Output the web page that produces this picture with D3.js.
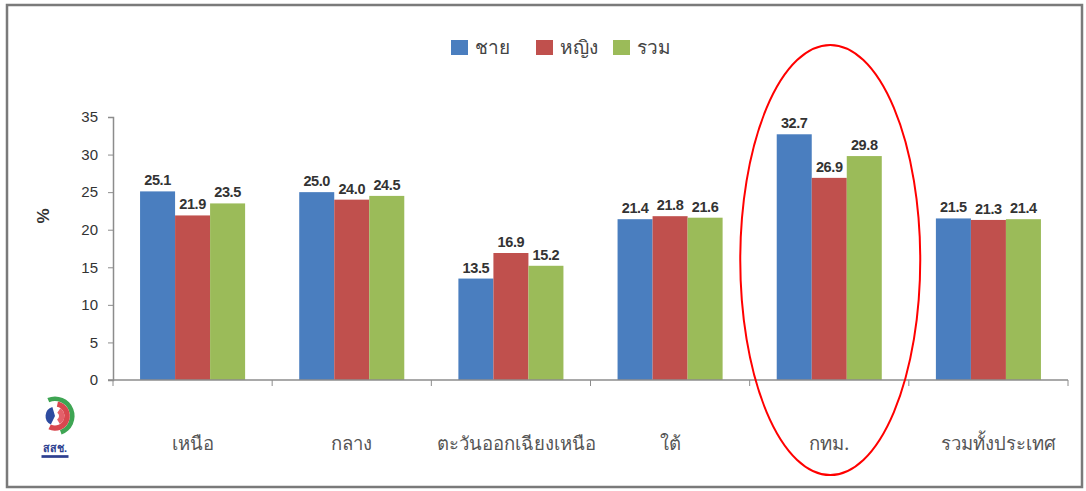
<!DOCTYPE html>
<html>
<head>
<meta charset="utf-8">
<script src="https://cdn.jsdelivr.net/npm/d3@7/dist/d3.min.js"></script>
<style>
  html, body { margin: 0; padding: 0; background: #fff; }
  svg { display: block; }
</style>
</head>
<body>
<svg id="chart" width="1086" height="491"></svg>
<script>
// Regions (x-axis categories)
const regions = ["เหนือ", "กลาง", "ตะวันออกเฉียงเหนือ", "ใต้", "กทม.", "รวมทั้งประเทศ"];
// Series names and colours
const seriesNames = ["ชาย", "หญิง", "รวม"];
const seriesColors = ["#4a7ebf", "#c0504d", "#9bbb59"];
// Percentages per region, one array per series
const male   = [25.1, 25.0, 13.5, 21.4, 32.7, 21.5];
const female = [21.9, 24.0, 16.9, 21.8, 26.9, 21.3];
const total  = [23.5, 24.5, 15.2, 21.6, 29.8, 21.4];
const yTicks = [0, 5, 10, 15, 20, 25, 30, 35];
const highlighted = "กทม.";

const seriesValues = [male, female, total];
const rows = regions.map((r, i) => ({
  region: r,
  values: seriesNames.map((s, k) => ({ key: s, k, value: seriesValues[k][i] }))
}));

const svg = d3.select("#chart");
const plot = { left: 113, right: 1068, top: 117, bottom: 380 };

// Outer frame
svg.append("rect")
  .attr("x", 7).attr("y", 5).attr("width", 1075).attr("height", 482)
  .attr("fill", "#fff").attr("stroke", "#7a7a7a").attr("stroke-width", 2.5);

const x = d3.scaleBand().domain(regions).range([plot.left, plot.right]).paddingInner(0).paddingOuter(0);
const groupWidth = x.bandwidth() * 0.66;
const xs = d3.scaleBand().domain(seriesNames)
  .range([(x.bandwidth() - groupWidth) / 2, (x.bandwidth() + groupWidth) / 2]).padding(0);
const y = d3.scaleLinear().domain([0, 35]).range([plot.bottom, plot.top]);

// Bars
const groups = svg.append("g").selectAll("g").data(rows).join("g")
  .attr("transform", d => `translate(${x(d.region)},0)`);
groups.selectAll("rect").data(d => d.values).join("rect")
  .attr("x", d => xs(d.key))
  .attr("y", d => y(d.value))
  .attr("width", xs.bandwidth())
  .attr("height", d => y(0) - y(d.value))
  .attr("fill", d => seriesColors[d.k]);

// Value labels
groups.selectAll("text").data(d => d.values).join("text")
  .attr("x", d => xs(d.key) + xs.bandwidth() / 2)
  .attr("y", d => y(d.value) - 6)
  .attr("text-anchor", "middle")
  .attr("font-family", "Liberation Sans, Arial, sans-serif")
  .attr("font-size", 14.5)
  .attr("font-weight", "bold")
  .attr("letter-spacing", -0.4)
  .attr("fill", "#333")
  .text(d => d.value.toFixed(1));

// Y axis
const yAxis = svg.append("g")
  .attr("transform", `translate(${plot.left},0)`)
  .call(d3.axisLeft(y).tickValues(yTicks).tickSize(5).tickPadding(10));
yAxis.select(".domain").attr("stroke", "#8c8c8c").attr("stroke-width", 1.5);
yAxis.selectAll(".tick line").attr("stroke", "#8c8c8c");
yAxis.selectAll(".tick text")
  .attr("font-family", "Liberation Sans, Arial, sans-serif")
  .attr("font-size", 15).attr("fill", "#333");

// X axis with ticks at category boundaries
const xAxis = svg.append("g")
  .attr("transform", `translate(0,${plot.bottom})`);
xAxis.append("line")
  .attr("x1", plot.left - 5).attr("x2", plot.right)
  .attr("stroke", "#8c8c8c").attr("stroke-width", 1.5);
const boundaries = regions.map(r => x(r)).concat([plot.right]);
xAxis.selectAll("line.tk").data(boundaries).join("line")
  .attr("class", "tk")
  .attr("x1", d => d).attr("x2", d => d)
  .attr("y1", 0).attr("y2", 6)
  .attr("stroke", "#8c8c8c");
xAxis.selectAll("text").data(regions).join("text")
  .attr("x", d => x(d) + x.bandwidth() / 2 + (d === "ตะวันออกเฉียงเหนือ" ? 6 : d === "รวมทั้งประเทศ" ? 10 : 0))
  .attr("y", 70)
  .attr("text-anchor", "middle")
  .attr("font-family", "Noto Sans, sans-serif")
  .attr("font-size", 18.5)
  .attr("fill", "#555")
  .text(d => d);

// Y-axis title
svg.append("text")
  .attr("transform", "translate(49,216) rotate(-90)")
  .attr("text-anchor", "middle")
  .attr("font-family", "Liberation Sans, Arial, sans-serif")
  .attr("font-size", 17).attr("font-weight", "bold").attr("fill", "#333")
  .text("%");

// Legend
const legendX = [451, 536, 613];
const legend = svg.append("g").selectAll("g").data(seriesNames).join("g")
  .attr("transform", (d, i) => `translate(${legendX[i]},40)`);
legend.append("rect")
  .attr("width", 17).attr("height", 15)
  .attr("fill", (d, i) => seriesColors[i]);
legend.append("text")
  .attr("x", 24).attr("y", 14)
  .attr("font-family", "Noto Sans, sans-serif")
  .attr("font-size", 19).attr("fill", "#444")
  .text(d => d);

// Highlight ring around Bangkok
const hx = x(highlighted) + x.bandwidth() / 2;
svg.append("ellipse")
  .attr("cx", hx + 1).attr("cy", 260)
  .attr("rx", 90).attr("ry", 215)
  .attr("fill", "none").attr("stroke", "#f00").attr("stroke-width", 2);

// Small agency logo at the lower left
const logo = svg.append("g").attr("transform", "translate(55,416) scale(1.35)");
logo.append("path")
  .attr("d", d3.arc()({ innerRadius: 11, outerRadius: 14.5, startAngle: -0.4, endAngle: 2.8 }))
  .attr("fill", "#3ea553");
logo.append("path")
  .attr("d", d3.arc()({ innerRadius: 7, outerRadius: 11, startAngle: 0.2, endAngle: 3.6 }))
  .attr("fill", "#d9474f");
logo.append("path")
  .attr("d", d3.arc()({ innerRadius: 0, outerRadius: 7, startAngle: 3.6, endAngle: 6.0 }))
  .attr("fill", "#2d4ba0");
logo.append("path")
  .attr("d", d3.arc()({ innerRadius: 3, outerRadius: 7, startAngle: 0.6, endAngle: 2.6 }))
  .attr("fill", "#e4606a");
logo.append("text")
  .attr("x", 0).attr("y", 27).attr("text-anchor", "middle")
  .attr("font-family", "Noto Sans, sans-serif")
  .attr("font-size", 8).attr("font-weight", "bold").attr("fill", "#2d3f8f")
  .text("สสช.");
logo.append("rect").attr("x", -10).attr("y", 29).attr("width", 20).attr("height", 2).attr("fill", "#2d3f8f");
</script>
</body>
</html>
